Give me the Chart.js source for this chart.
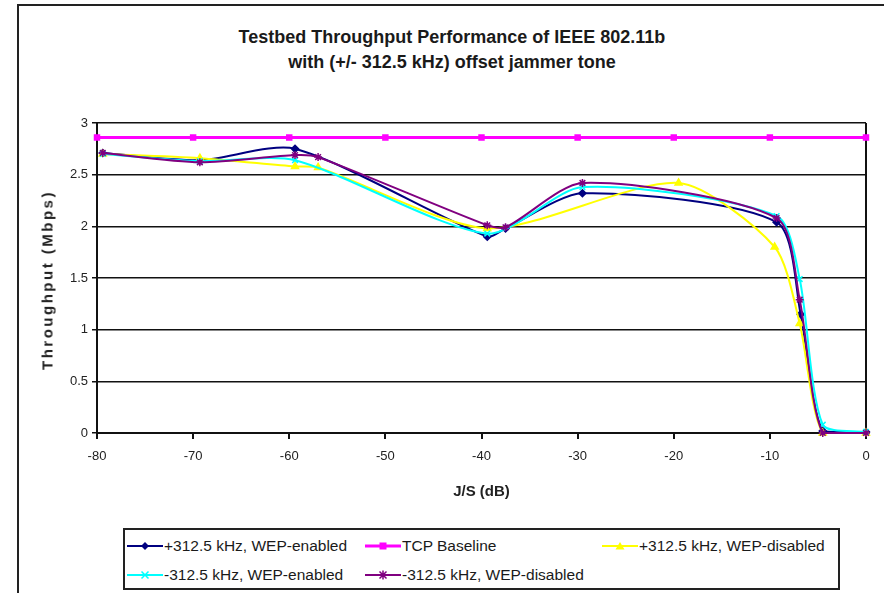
<!DOCTYPE html>
<html>
<head>
<meta charset="utf-8">
<script src="https://cdn.jsdelivr.net/npm/chart.js@4.4.0/dist/chart.umd.min.js"></script>
<style>
body { margin: 0; background: #fff; overflow: hidden; }
#wrap { position: relative; width: 884px; height: 593px; overflow: hidden; font-family: "Liberation Sans", Arial, sans-serif; color: #1a1a1a; }
#frame { position: absolute; left: 17px; top: 4px; width: 900px; height: 700px; border: 2px solid #222; }
#title { position: absolute; left: 0; top: 25px; width: 904px; text-align: center; font-weight: bold; font-size: 18px; line-height: 25px; }
#ytitle { position: absolute; left: 47px; top: 280px; transform: translate(-50%, -50%) rotate(-90deg); font-weight: bold; font-size: 15px; letter-spacing: 2.5px; white-space: nowrap; color: #222; }
#chart { position: absolute; left: 0; top: 0; }
#legend { position: absolute; left: 123px; top: 528px; width: 713px; height: 58px; border: 2px solid #222; background: #fff; }
.item { position: absolute; font-size: 15.5px; white-space: nowrap; line-height: 18px; }
.item svg { vertical-align: -1px; margin-right: 1px; }
</style>
</head>
<body>
<div id="wrap">
  <div id="frame"></div>
  <div id="title">Testbed Throughput Performance of IEEE 802.11b<br>with (+/- 312.5 kHz) offset jammer tone</div>
  <canvas id="chart" width="884" height="593"></canvas>
  <div id="ytitle">Throughput (Mbps)</div>
  <div id="legend"></div>
</div>
<script>
// J/S (dB) and throughput (Mbps) per series
const xPlusOn = [-79.4, -69.3, -59.4, -39.4, -37.5, -29.5, -9.3, -6.8, -4.5, 0];
const yPlusOn = [2.71, 2.64, 2.75, 1.90, 1.98, 2.32, 2.04, 1.15, 0.02, 0.01];

const xBase = [-80, -70, -60, -50, -40, -30, -20, -10, 0];
const yBase = [2.86, 2.86, 2.86, 2.86, 2.86, 2.86, 2.86, 2.86, 2.86];

const xPlusOff = [-79.4, -69.3, -59.4, -57, -39.4, -19.5, -9.5, -6.9, -4.5, 0];
const yPlusOff = [2.70, 2.66, 2.58, 2.57, 1.98, 2.42, 1.80, 1.06, 0.0, 0.0];

const xMinusOn = [-79.4, -69.3, -59.4, -39.4, -29.5, -9.3, -6.9, -4.5, 0];
const yMinusOn = [2.70, 2.63, 2.64, 1.93, 2.38, 2.10, 1.49, 0.08, 0.01];

const xMinusOff = [-79.4, -69.3, -59.4, -57, -39.4, -37.5, -29.5, -9.3, -6.9, -4.5, 0];
const yMinusOff = [2.71, 2.62, 2.69, 2.67, 2.01, 1.99, 2.42, 2.08, 1.29, 0.0, 0.0];

const seriesNames = ['+312.5 kHz, WEP-enabled', 'TCP Baseline', '+312.5 kHz, WEP-disabled',
    '-312.5 kHz, WEP-enabled', '-312.5 kHz, WEP-disabled'];
const xTicks = [-80, -70, -60, -50, -40, -30, -20, -10, 0];

function pts(xs, ys) {
    return xs.map((x, i) => ({ x: x, y: ys[i] }));
}

let styles = [
    { color: '#000080', marker: 'rectRot', width: 2, r: 3.5, order: 5 },
    { color: '#ff00ff', marker: 'rect', width: 3, r: 3.5, order: 4 },
    { color: '#ffff00', marker: 'triangle', width: 2, r: 4, order: 3 },
    { color: '#00ffff', marker: 'crossRot', width: 2, r: 4, order: 2 },
    { color: '#800080', marker: 'star', width: 2, r: 4, order: 1 }
];
let allData = [pts(xPlusOn, yPlusOn), pts(xBase, yBase), pts(xPlusOff, yPlusOff),
    pts(xMinusOn, yMinusOn), pts(xMinusOff, yMinusOff)];

let datasets = allData.map((d, i) => ({
    label: seriesNames[i],
    data: d,
    borderColor: styles[i].color,
    backgroundColor: styles[i].color,
    borderWidth: styles[i].width,
    pointStyle: styles[i].marker,
    pointRadius: styles[i].r,
    pointBorderWidth: 1.5,
    tension: i == 1 ? 0 : 0.25,
    order: styles[i].order,
    clip: 6
}));

let ctx = document.getElementById('chart').getContext('2d');
let chart = new Chart(ctx, {
    type: 'line',
    data: { datasets: datasets },
    options: {
        responsive: false,
        animation: false,
        layout: { padding: { left: 0, right: 18, top: 123, bottom: 0 } },
        plugins: { legend: { display: false }, title: { display: false }, tooltip: { enabled: false } },
        scales: {
            x: {
                type: 'linear', min: -80, max: 0,
                afterBuildTicks: s => { s.ticks = xTicks.map(v => ({ value: v })); },
                afterFit: s => { s.height = 160; },
                ticks: { color: '#222', font: { family: 'Liberation Sans', size: 13 }, padding: 10, maxRotation: 0 },
                grid: {
                    color: c => (c.tick && c.tick.value === 0) ? '#111' : 'rgba(0,0,0,0)',
                    tickColor: '#111', lineWidth: 2, tickLength: 6
                },
                border: { color: '#111', width: 2 },
                title: { display: true, text: 'J/S (dB)', color: '#222', font: { family: 'Liberation Sans', size: 15, weight: 'bold' }, padding: { top: 0, bottom: 92 } }
            },
            y: {
                min: 0, max: 3,
                afterFit: s => { s.width = 97; },
                ticks: { stepSize: 0.5, color: '#222', font: { family: 'Liberation Sans', size: 13 }, padding: 4, callback: v => String(v) },
                grid: { color: '#111', lineWidth: 1.5, tickLength: 5 },
                border: { color: '#111', width: 2 },
                title: { display: false }
            }
        }
    }
});

// legend in its own box, like the spreadsheet one
function markerSvg(st) {
    let c = st.color, m = '';
    if (st.marker == 'rectRot') m = `<polygon points="18,2 22,6 18,10 14,6" fill="${c}"/>`;
    if (st.marker == 'rect') m = `<rect x="14.5" y="2.5" width="7" height="7" fill="${c}"/>`;
    if (st.marker == 'triangle') m = `<polygon points="18,2 22.5,9.5 13.5,9.5" fill="${c}"/>`;
    if (st.marker == 'crossRot') m = `<path d="M14.5 2.5 L21.5 9.5 M21.5 2.5 L14.5 9.5" stroke="${c}" stroke-width="1.5"/>`;
    if (st.marker == 'star') m = `<path d="M14.5 2.5 L21.5 9.5 M21.5 2.5 L14.5 9.5 M18 1.5 L18 10.5" stroke="${c}" stroke-width="1.5"/>`;
    return `<svg width="36" height="12"><line x1="0" y1="6" x2="36" y2="6" stroke="${c}" stroke-width="${st.width}"/>${m}</svg>`;
}

let legendPos = [[2, 7], [240, 7], [477, 7], [2, 36], [240, 36]];
let legend = document.getElementById('legend');
seriesNames.forEach((name, i) => {
    let div = document.createElement('div');
    div.className = 'item';
    div.style.left = legendPos[i][0] + 'px';
    div.style.top = legendPos[i][1] + 'px';
    div.innerHTML = markerSvg(styles[i]) + name;
    legend.appendChild(div);
});
</script>
</body>
</html>
